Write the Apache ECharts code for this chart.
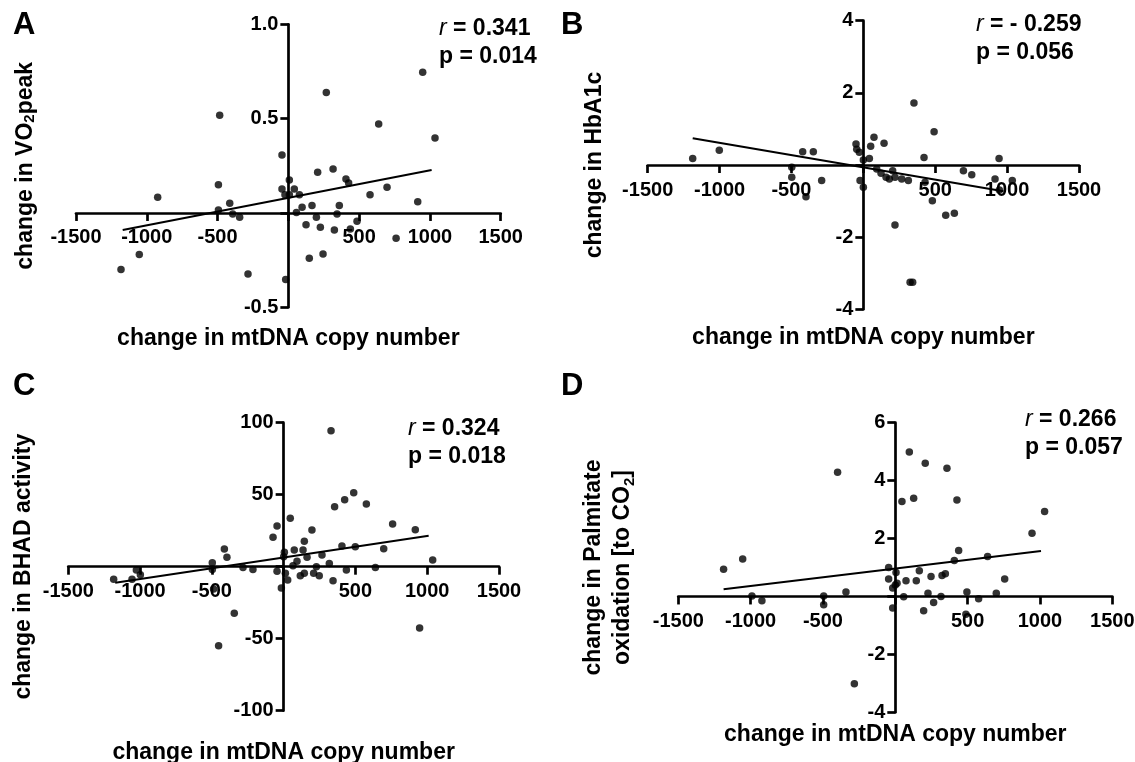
<!DOCTYPE html>
<html>
<head>
<meta charset="utf-8">
<script src="https://cdn.jsdelivr.net/npm/echarts@6/dist/echarts.min.js"></script>
<style>
html,body{margin:0;padding:0;background:#fff;}
#chart{width:1135px;height:762px;}
</style>
</head>
<body>
<div id="chart"></div>
<script>
// ---- Data ----
const xTickLabels = ['-1500', '-1000', '-500', '', '500', '1000', '1500'];

const aX = [-1182,-1053,-923,-494,-485,-494,-414,-393,-344,-285,-45,-45,-19,-24,7,7,42,78,57,97,125,148,167,198,207,226,245,268,316,325,344,360,407,426,438,485,577,638,697,761,914,949,1036];
const aY = [-0.30,-0.22,0.083,0.150,0.518,0.016,0.051,-0.005,-0.023,-0.323,0.307,0.127,-0.353,0.097,0.175,0.097,0.127,0.097,0.002,0.030,-0.062,-0.240,0.039,-0.023,0.216,-0.076,-0.217,0.638,0.233,-0.090,-0.005,0.039,0.180,0.159,-0.085,-0.044,0.097,0.472,0.136,-0.134,0.060,0.746,0.398];
const aFitX = [-1170, 1012];
const aFitY = [-0.09, 0.228];

const bX = [-1187,-1002,-498,-498,-422,-399,-348,-290,-51,-46,-28,-23,0,0,42,51,74,93,123,144,158,181,204,220,220,267,313,325,343,352,422,429,480,492,573,633,696,754,916,944,946,1036];
const bY = [0.18,0.41,-0.06,-0.34,0.37,-0.88,0.37,-0.43,0.58,0.44,0.35,-0.43,-0.62,0.14,0.18,0.52,0.77,-0.11,-0.23,0.60,-0.34,-0.39,-0.16,-1.66,-0.34,-0.39,-0.43,-3.25,-3.25,1.72,0.21,-0.48,-0.99,0.92,-1.39,-1.34,-0.16,-0.27,-0.39,0.18,-0.69,-0.43];
const bFitX = [-1187, 974];
const bFitY = [0.74, -0.73];

const cX = [-1184,-1056,-1026,-998,-497,-497,-488,-453,-413,-395,-344,-283,-214,-74,-46,-46,-16,0,5,12,28,46,65,74,93,116,135,144,144,163,197,209,228,248,267,318,330,344,355,406,425,437,488,499,576,639,697,759,917,947,1038];
const cY = [-8.8,-8.8,-2.3,-5.6,2.8,-1.9,-15.5,-54.9,12.3,6.5,-32.4,-0.5,-1.9,20.4,28.2,-3.2,-14.8,6.9,10,-4.6,-9.3,33.6,0.7,11.6,3.7,-6.3,11.6,17.6,-4.6,6.5,25.5,-4.6,0,-6.3,8.1,2.3,94.4,-9.7,41.7,14.4,46.5,-2.3,51.4,13.9,43.5,-0.5,12.5,29.6,25.7,-42.6,4.6];
const cFitX = [-1173, 1010];
const cFitY = [-11.1, 21.5];

const dX = [-1187,-1055,-991,-922,-495,-495,-399,-341,-283,-46,-46,-18,-18,0,5,12,46,58,74,97,127,145,166,196,207,226,247,265,316,323,346,357,408,426,438,488,495,576,638,698,756,945,1032];
const dY = [0.94,1.29,0.02,-0.15,0.02,-0.29,4.29,0.15,-3.01,1.0,0.60,0.29,-0.40,0.40,0.83,0.46,3.28,-0.01,0.54,4.99,3.39,0.54,0.89,-0.49,4.60,0.11,0.69,-0.21,0.0,0.72,0.78,4.43,1.24,3.33,1.59,-0.61,0.15,-0.08,1.38,0.11,0.60,2.18,2.93];
const dFitX = [-1187, 1007];
const dFitY = [0.25, 1.57];

const panelLetters = ['A', 'B', 'C', 'D'];
const statR = ['0.341', '- 0.259', '0.324', '0.266'];
const statP = ['0.014', '0.056', '0.018', '0.057'];
const xTitle = 'change in mtDNA copy number';
const xRange = [-1500, 1500, 500];
const yRanges = [[-0.5, 1.0, 0.5], [-4, 4, 2], [-100, 100, 50], [-4, 6, 2]];

// ---- Styling / layout ----
const FONT = "'Liberation Sans', Arial, sans-serif";
const grids = [
  {left: 76,    top: 24.3,  width: 424.7, height: 283},
  {left: 647.7, top: 20.7,  width: 431.3, height: 288.6},
  {left: 68.3,  top: 422.7, width: 430.7, height: 288},
  {left: 678.3, top: 422.7, width: 434,   height: 289.6}
];
const xNameGap = [114, 161, 174, 127];
const yNameGap = [251, 257, 248, 258];
const yNames = [
  '{m|change in VO}{s|2}{m|peak}',
  '{m|change in HbA1c}',
  '{m|change in BHAD activity}',
  '{m2|change in Palmitate}\n{m2|oxidation [to CO}{s2|2}{m2|]}'
];
const statPos = [[439, 17], [976, 13], [408, 417], [1025, 408]];
const letterPos = [[13, 10], [561, 10], [13, 371], [561, 371]];

function pairs(xs, ys) { return xs.map((x, i) => [x, ys[i]]); }
const scatterData = [pairs(aX, aY), pairs(bX, bY), pairs(cX, cY), pairs(dX, dY)];
const fitData = [pairs(aFitX, aFitY), pairs(bFitX, bFitY), pairs(cFitX, cFitY), pairs(dFitX, dFitY)];

// Axes cross at zero: shift each axis from the grid edge to the other axis' zero.
const xAxisOffset = grids.map((g, i) => -(0 - yRanges[i][0]) / (yRanges[i][1] - yRanges[i][0]) * g.height);
const yAxisOffset = grids.map(g => -(0 - xRange[0]) / (xRange[1] - xRange[0]) * g.width);

const axisLineStyle = {color: '#000', width: 2.7};
const richSub = {
  m: {fontFamily: FONT, fontSize: 23, fontWeight: 'bold', color: '#000', lineHeight: 23},
  s: {fontFamily: FONT, fontSize: 15, fontWeight: 'bold', color: '#000', lineHeight: 8, verticalAlign: 'bottom'},
  m2: {fontFamily: FONT, fontSize: 23, fontWeight: 'bold', color: '#000', lineHeight: 29},
  s2: {fontFamily: FONT, fontSize: 15, fontWeight: 'bold', color: '#000', lineHeight: 14, verticalAlign: 'bottom'}
};

const option = {
  animation: false,
  backgroundColor: '#fff',
  grid: grids.map(g => Object.assign({outerBoundsMode: 'none', containLabel: false}, g)),
  xAxis: grids.map((g, i) => ({
    type: 'value', gridIndex: i, position: 'bottom', offset: xAxisOffset[i],
    min: xRange[0], max: xRange[1], interval: xRange[2],
    name: xTitle, nameLocation: 'middle', nameGap: xNameGap[i], nameMoveOverlap: false,
    nameTextStyle: {fontFamily: FONT, fontSize: 23, fontWeight: 'bold', color: '#000', lineHeight: 23},
    axisLine: {show: true, onZero: false, lineStyle: axisLineStyle},
    axisTick: {show: true, length: 8, inside: false, lineStyle: axisLineStyle},
    axisLabel: {show: true, margin: 15, fontFamily: FONT, fontSize: 20, fontWeight: 'bold', color: '#000',
      showMinLabel: true, showMaxLabel: true, hideOverlap: false,
      formatter: v => xTickLabels[Math.round((v - xRange[0]) / xRange[2])]},
    splitLine: {show: false}
  })),
  yAxis: grids.map((g, i) => ({
    type: 'value', gridIndex: i, position: 'left', offset: yAxisOffset[i],
    min: yRanges[i][0], max: yRanges[i][1], interval: yRanges[i][2],
    name: yNames[i], nameLocation: 'middle', nameGap: yNameGap[i], nameMoveOverlap: false,
    nameTextStyle: {fontFamily: FONT, fontSize: 23, fontWeight: 'bold', color: '#000', rich: richSub},
    axisLine: {show: true, onZero: false, lineStyle: axisLineStyle},
    axisTick: {show: true, length: 8, inside: false, lineStyle: axisLineStyle},
    axisLabel: {show: true, margin: 10, fontFamily: FONT, fontSize: 20, fontWeight: 'bold', color: '#000',
      showMinLabel: true, showMaxLabel: true, hideOverlap: false,
      formatter: v => (Math.abs(v) < 1e-9 ? '' : (i === 0 ? v.toFixed(1) : String(v)))},
    splitLine: {show: false}
  })),
  series: [].concat(
    scatterData.map((d, i) => ({
      type: 'scatter', xAxisIndex: i, yAxisIndex: i, data: d,
      symbol: 'circle', symbolSize: 7.5, itemStyle: {color: '#000'}, z: 3
    })),
    fitData.map((d, i) => ({
      type: 'line', xAxisIndex: i, yAxisIndex: i, data: d,
      symbol: 'none', lineStyle: {color: '#000', width: 2}, z: 4
    }))
  ),
  graphic: [].concat(
    panelLetters.map((L, i) => ({
      type: 'text', left: letterPos[i][0], top: letterPos[i][1],
      style: {text: L, fontFamily: FONT, fontSize: 31, fontWeight: 'bold', fill: '#000', lineHeight: 31}
    })),
    statR.map((r, i) => ({
      type: 'text', left: statPos[i][0], top: statPos[i][1],
      style: {
        text: '{i|r}{n| = ' + r + '}\n{n|p = ' + statP[i] + '}',
        rich: {
          i: {fontFamily: FONT, fontSize: 23, fontWeight: 'normal', fontStyle: 'italic', fill: '#000', lineHeight: 28},
          n: {fontFamily: FONT, fontSize: 23, fontWeight: 'bold', fill: '#000', lineHeight: 28}
        }
      }
    }))
  )
};

const chart = echarts.init(document.getElementById('chart'), null, {renderer: 'canvas'});
chart.setOption(option);
</script>
</body>
</html>
